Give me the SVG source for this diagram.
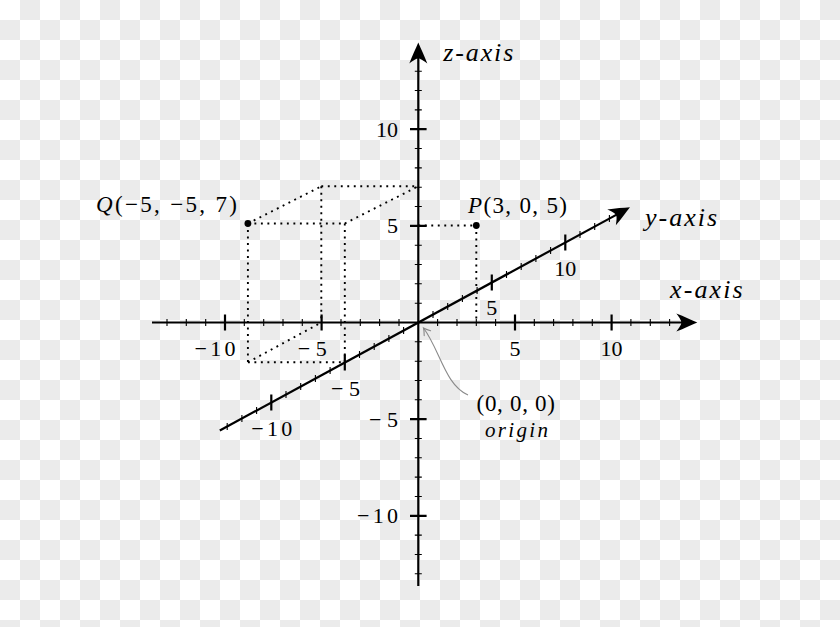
<svg xmlns="http://www.w3.org/2000/svg" width="840" height="627" viewBox="0 0 840 627">
<defs>
<pattern id="chk" width="40" height="40" patternUnits="userSpaceOnUse">
<rect width="40" height="40" fill="#ffffff"/>
<rect x="20" y="0" width="20" height="20" fill="#ebebeb"/>
<rect x="0" y="20" width="20" height="20" fill="#ebebeb"/>
</pattern>
<path id="ah" d="M0,0 C-6,-2.5 -13,-6 -21,-9 C-17.5,-4.5 -16,-2 -16,0 C-16,2 -17.5,4.5 -21,9 C-13,6 -6,2.5 0,0 Z"/>
<marker id="garrow" markerUnits="userSpaceOnUse" markerWidth="12" markerHeight="12" viewBox="-8 -6 10 12" refX="0" refY="0" orient="auto">
<path d="M-6.5,-4 Q-2.5,-1 0,0 Q-2.5,1 -6.5,4" fill="none" stroke="#8a8a8a" stroke-width="1.1" stroke-linecap="round"/>
</marker>
</defs>
<style>
.ax{stroke:#000;stroke-width:2.2;fill:none}
.mn{stroke:#000;stroke-width:1.1;fill:none}
.mj{stroke:#000;stroke-width:2.2;fill:none}
.dt{stroke:#000;stroke-width:1.9;fill:none;stroke-dasharray:1.9 4.6}
</style>
<rect width="840" height="627" fill="url(#chk)"/>

<g id="connectors">
<g id="x-axis">
<path class="ax" d="M152,322.5 H686"/>
<use href="#ah" transform="translate(697.3,322.5)"/>
<path class="mn" d="M167,319 v7 M186.3,319 v7 M205.7,319 v7 M244.3,319 v7 M263.7,319 v7 M283,319 v7 M302.3,319 v7 M341,319 v7 M360.3,319 v7 M379.6,319 v7 M399,319 v7 M437.6,319 v7 M457,319 v7 M476.3,319 v7 M495.6,319 v7 M534.3,319 v7 M553.6,319 v7 M572.9,319 v7 M592.3,319 v7 M630.9,319 v7 M650.3,319 v7 M669.6,319 v7"/>
<path class="mj" d="M225,314.5 v16 M321.6,314.5 v16 M515,314.5 v16 M611.6,314.5 v16"/>
</g>
<g id="z-axis">
<path class="ax" d="M418.3,586 V55"/>
<use href="#ah" transform="translate(418.3,42.5) rotate(-90)"/>
<path class="mn" d="M414.8,71.2 h7 M414.8,90.5 h7 M414.8,109.9 h7 M414.8,148.5 h7 M414.8,167.9 h7 M414.8,187.2 h7 M414.8,206.5 h7 M414.8,245.2 h7 M414.8,264.5 h7 M414.8,283.8 h7 M414.8,303.2 h7 M414.8,341.8 h7 M414.8,361.2 h7 M414.8,380.5 h7 M414.8,399.8 h7 M414.8,438.5 h7 M414.8,457.8 h7 M414.8,477.1 h7 M414.8,496.5 h7 M414.8,535.1 h7 M414.8,554.5 h7 M414.8,573.8 h7"/>
<path class="mj" d="M410,129.2 h16.6 M410,225.8 h16.6 M410,419.2 h16.6 M410,515.8 h16.6"/>
</g>
<g id="y-axis">
<path class="ax" d="M219.8,430.5 L618.5,213.6"/>
<use href="#ah" transform="translate(630,207.3) rotate(-28.55)"/>
<path class="mn" d="M227.2,423 v7 M241.9,415 v7 M256.6,407 v7 M286,391 v7 M300.7,383 v7 M315.4,375 v7 M330.1,367 v7 M359.5,351 v7 M374.2,343 v7 M388.9,335 v7 M403.6,327 v7 M433,311 v7 M447.7,303 v7 M462.4,295 v7 M477.1,287 v7 M506.5,271 v7 M521.2,263 v7 M535.9,255 v7 M550.6,247 v7 M580,231 v7 M594.7,223 v7 M609.4,215 v7"/>
<path class="mj" d="M271.3,394.5 v16 M344.8,354.5 v16 M491.8,274.5 v16 M565.3,234.5 v16"/>
</g>
<g id="guides">
<path class="dt" d="M418.3,225.5 H476.3 M476.3,225.5 V322.5"/>
<path class="dt" d="M247.9,223.5 H344.8 M247.9,223.5 L321.3,186.3 M321.3,186.3 H418.3 M344.8,223.5 L418.3,186.3 M247.9,223.5 V362.3 M321.3,186.3 V322.5 M344.8,223.5 V362.5 M247.9,362.3 H344.8 M247.9,362.3 L321.3,322.5"/>
</g>
<path id="origin-pointer" d="M468,395 C445,385 440,350 423.5,328" fill="none" stroke="#8a8a8a" stroke-width="1.1" marker-end="url(#garrow)"/>
</g>

<g font-family="Liberation Serif, serif" fill="#000">
<g id="point-Q">
<circle cx="247.9" cy="223.5" r="3.4"/>
<text x="96" y="212" font-size="23" textLength="141" lengthAdjust="spacing"><tspan font-style="italic">Q</tspan>(−5, −5, 7)</text>
</g>
<g id="point-P">
<circle cx="476.3" cy="225.5" r="3.4"/>
<text x="468" y="213" font-size="23" textLength="99" lengthAdjust="spacing"><tspan font-style="italic">P</tspan>(3, 0, 5)</text>
</g>
<g id="origin-label">
<text x="476.5" y="411" font-size="23" textLength="78.5" lengthAdjust="spacing">(0, 0, 0)</text>
<text x="485" y="436.7" font-size="21" font-style="italic" textLength="63" lengthAdjust="spacing">origin</text>
</g>

<g id="axis-labels" font-style="italic" font-size="26">
<text x="443.3" y="60.5" textLength="70" lengthAdjust="spacing">z-axis</text>
<text x="645" y="226" textLength="72" lengthAdjust="spacing">y-axis</text>
<text x="670" y="298.3" textLength="72.7" lengthAdjust="spacing">x-axis</text>
</g>

<g id="tick-labels" font-size="22">
<text x="398" y="136.5" text-anchor="end">10</text>
<text x="398" y="233" text-anchor="end">5</text>
<text x="398" y="426.7" text-anchor="end" textLength="29" lengthAdjust="spacing">−5</text>
<text x="398" y="523" text-anchor="end" textLength="41" lengthAdjust="spacing">−10</text>

<text x="194.5" y="356" textLength="41" lengthAdjust="spacing">−10</text>
<text x="297.8" y="356" textLength="29" lengthAdjust="spacing">−5</text>
<text x="515" y="356" text-anchor="middle">5</text>
<text x="611.6" y="356" text-anchor="middle">10</text>

<text x="491.8" y="315" text-anchor="middle">5</text>
<text x="565.3" y="276" text-anchor="middle">10</text>
<text x="331" y="396" textLength="29" lengthAdjust="spacing">−5</text>
<text x="251.3" y="436" textLength="41" lengthAdjust="spacing">−10</text>
</g>
</g>
</svg>
